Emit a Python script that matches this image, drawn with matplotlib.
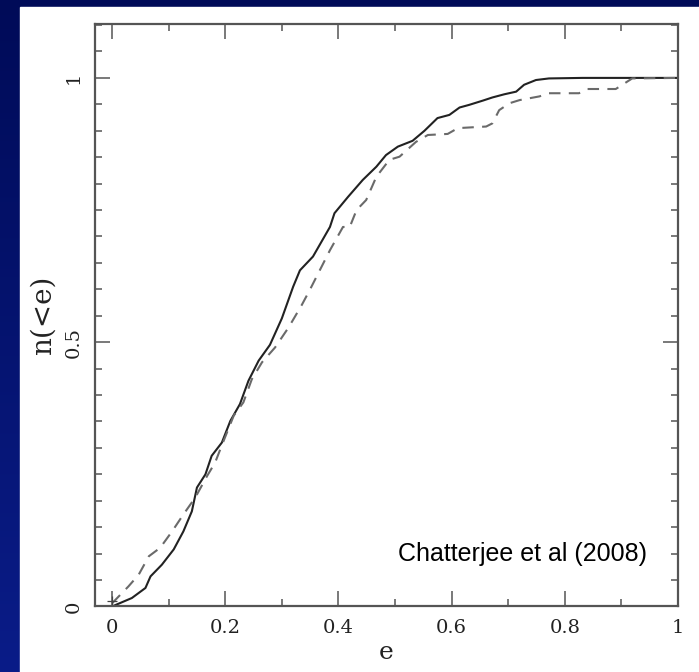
import numpy as np
import matplotlib
matplotlib.use('Agg')
import matplotlib.pyplot as plt
from matplotlib.patches import Rectangle
from matplotlib.ticker import MultipleLocator

# solid curve (simulations)
e_solid = [0.0, 0.035, 0.059, 0.068, 0.088, 0.109, 0.126, 0.141, 0.150, 0.165, 0.176,
           0.194, 0.209, 0.226, 0.241, 0.259, 0.279, 0.300, 0.320, 0.332, 0.355, 0.385,
           0.393, 0.417, 0.443, 0.467, 0.484, 0.505, 0.531, 0.552, 0.575, 0.596, 0.614,
           0.631, 0.655, 0.672, 0.693, 0.714, 0.728, 0.749, 0.772, 0.831, 1.0]
n_solid = [0.0, 0.016, 0.035, 0.057, 0.079, 0.108, 0.142, 0.180, 0.225, 0.250, 0.285,
           0.310, 0.351, 0.383, 0.427, 0.465, 0.495, 0.545, 0.605, 0.636, 0.662, 0.718,
           0.744, 0.775, 0.807, 0.832, 0.854, 0.870, 0.881, 0.900, 0.924, 0.930, 0.944,
           0.949, 0.957, 0.963, 0.969, 0.974, 0.987, 0.996, 0.999, 1.0, 1.0]

# dashed curve (observed)
e_dash = [0.0, 0.029, 0.047, 0.065, 0.085, 0.106, 0.126, 0.147, 0.168, 0.182, 0.197,
          0.215, 0.232, 0.247, 0.265, 0.288, 0.312, 0.335, 0.349, 0.385, 0.408, 0.420,
          0.432, 0.449, 0.467, 0.490, 0.508, 0.537, 0.558, 0.593, 0.611, 0.661, 0.672,
          0.684, 0.702, 0.720, 0.755, 0.772, 0.825, 0.840, 0.890, 0.919, 1.0]
n_dash = [0.006, 0.038, 0.060, 0.095, 0.111, 0.142, 0.174, 0.206, 0.247, 0.272, 0.313,
          0.361, 0.386, 0.430, 0.462, 0.490, 0.528, 0.570, 0.598, 0.674, 0.718, 0.718,
          0.750, 0.769, 0.813, 0.845, 0.851, 0.879, 0.892, 0.894, 0.905, 0.908, 0.914,
          0.939, 0.952, 0.958, 0.965, 0.971, 0.971, 0.979, 0.979, 0.999, 1.0]

x_ticks = [0, 0.2, 0.4, 0.6, 0.8, 1.0]
x_labels = ['0', '0.2', '0.4', '0.6', '0.8', '1']
y_ticks = [0, 0.5, 1.0]
y_labels = ['0', '0.5', '1']

fig = plt.figure(figsize=(6.99, 6.72), dpi=100)

# slide background: blue gradient with white panel
bg = fig.add_axes([0, 0, 1, 1])
grad = np.linspace(0, 1, 256).reshape(-1, 1)
cmap = matplotlib.colors.LinearSegmentedColormap.from_list('slide', ['#000b58', '#0a1c88'])
bg.imshow(grad, aspect='auto', cmap=cmap, extent=[0, 1, 0, 1], origin='upper')
bg.add_patch(Rectangle((20 / 699, 0), 1, 1 - 7 / 672, color='white', zorder=2))
bg.set_xlim(0, 1)
bg.set_ylim(0, 1)
bg.axis('off')

ax = fig.add_axes([0.136, 0.0975, 0.834, 0.8668])
ax.plot(e_solid, n_solid, color='#222222', lw=1.5)
ax.plot(e_dash, n_dash, color='#6a6a6a', lw=1.5, linestyle=(0, (5.5, 4)))
ax.plot(e_dash[0], n_dash[0] + 0.005, marker='+', color='#444444', ms=7, mew=0.9)

ax.set_xlim(-0.03, 1.0)
ax.set_ylim(0, 1.102)
ax.xaxis.set_minor_locator(MultipleLocator(0.1))
ax.yaxis.set_minor_locator(MultipleLocator(0.05))
ax.set_xticks(x_ticks)
ax.set_xticklabels(x_labels)
ax.set_yticks(y_ticks)
ax.set_yticklabels(y_labels)

ax.tick_params(which='both', direction='in', top=True, right=True, color='#555555')
ax.tick_params(which='major', length=10.5, width=1.1, labelsize=14, pad=9)
ax.tick_params(which='minor', length=5, width=1.1)
for lab in ax.get_xticklabels() + ax.get_yticklabels():
    lab.set_family('DejaVu Serif')
    lab.set_color('#222222')
for lab in ax.get_yticklabels():
    lab.set_rotation(90)
    lab.set_va('center')
for s in ax.spines.values():
    s.set_color('#555555')
    s.set_linewidth(1.6)

ax.set_xlabel('e', family='DejaVu Serif', fontsize=18, color='#222222', labelpad=3)
ax.set_ylabel('n(<e)', family='DejaVu Serif', fontsize=20, color='#222222', labelpad=6)

ax.text(0.945, 0.10, 'Chatterjee et al (2008)', family='Liberation Sans', fontsize=18,
        ha='right', va='center', color='black')

fig.savefig('out.png', dpi=100)
